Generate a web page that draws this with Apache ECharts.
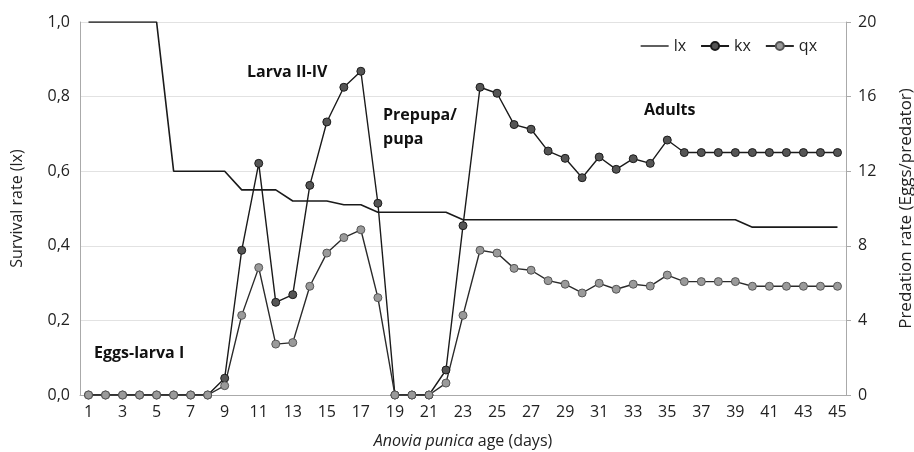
<!DOCTYPE html>
<html>
<head>
<meta charset="utf-8">
<script src="https://cdn.jsdelivr.net/npm/echarts@6/dist/echarts.min.js"></script>
<style>
  html, body { margin: 0; padding: 0; background: #fff; }
  #chart { width: 914px; height: 452px; }
</style>
</head>
<body>
<div id="chart"></div>
<script>
// days of life
var days = [];
for (var d = 1; d <= 45; d++) days.push(String(d));

// survival rate (left axis)
var lx = [1, 1, 1, 1, 1, 0.6, 0.6, 0.6, 0.6, 0.55, 0.55, 0.55, 0.52, 0.52, 0.52,
  0.51, 0.51, 0.49, 0.49, 0.49, 0.49, 0.49, 0.47, 0.47, 0.47, 0.47, 0.47, 0.47,
  0.47, 0.47, 0.47, 0.47, 0.47, 0.47, 0.47, 0.47, 0.47, 0.47, 0.47, 0.45, 0.45,
  0.45, 0.45, 0.45, 0.45];

// predation rate (right axis)
var kx = [0, 0, 0, 0, 0, 0, 0, 0, 0.9, 7.76, 12.42, 4.97, 5.38, 11.24, 14.64,
  16.5, 17.36, 10.28, 0, 0, 0, 1.34, 9.08, 16.5, 16.18, 14.5, 14.25, 13.08,
  12.69, 11.65, 12.76, 12.1, 12.67, 12.42, 13.67, 13, 13, 13, 13, 13, 13, 13,
  13, 13, 13];
var qx = [0, 0, 0, 0, 0, 0, 0, 0, 0.5, 4.27, 6.83, 2.73, 2.81, 5.83, 7.61,
  8.44, 8.86, 5.22, 0, 0, 0, 0.64, 4.27, 7.76, 7.61, 6.79, 6.69, 6.13, 5.94,
  5.47, 5.99, 5.67, 5.94, 5.84, 6.43, 6.08, 6.08, 6.08, 6.08, 5.83, 5.83, 5.83,
  5.83, 5.83, 5.83];

var stageLabels = [
  { text: 'Eggs-larva I', left: 94, top: 341 },
  { text: 'Larva II-IV', left: 247, top: 60 },
  { text: 'Prepupa/\npupa', left: 383, top: 103 },
  { text: 'Adults', left: 644, top: 98 }
];

var font = 'Open Sans';
var myChart = echarts.init(document.getElementById('chart'));

myChart.setOption({
  animation: false,
  textStyle: { fontFamily: font, color: '#222' },
  grid: { left: 80, right: 68, top: 22, bottom: 57, containLabel: false, outerBoundsMode: 'none' },
  legend: {
    top: 33,
    right: 92,
    itemWidth: 28,
    itemHeight: 10,
    itemGap: 14,
    textStyle: { fontSize: 16, color: '#222', fontFamily: font },
    data: [
      { name: 'lx', icon: 'path://M0,0L30,0L30,1.5L0,1.5Z' },
      'kx',
      'qx'
    ]
  },
  xAxis: {
    type: 'category',
    data: days,
    boundaryGap: true,
    axisLine: { lineStyle: { color: '#aaa' } },
    axisTick: { show: false },
    axisLabel: { interval: 1, fontSize: 16, color: '#222', margin: 9 },
    name: '{i|Anovia punica} age (days)',
    nameLocation: 'middle',
    nameGap: 38,
    nameTextStyle: {
      fontSize: 16, color: '#222',
      rich: { i: { fontStyle: 'italic', fontSize: 16, color: '#222', fontFamily: font } }
    }
  },
  yAxis: [{
    type: 'value',
    min: 0, max: 1, interval: 0.2,
    axisLine: { show: true, lineStyle: { color: '#aaa' } },
    axisTick: { show: false },
    splitLine: { lineStyle: { color: '#e2e2e2' } },
    axisLabel: {
      fontSize: 16, color: '#222', margin: 10,
      formatter: function (v) { return v.toFixed(1).replace('.', ','); }
    },
    name: 'Survival rate (lx)',
    nameLocation: 'middle',
    nameGap: 55,
    nameTextStyle: { fontSize: 16, color: '#222' }
  }, {
    type: 'value',
    min: 0, max: 20, interval: 4,
    axisLine: { show: true, lineStyle: { color: '#aaa' } },
    axisTick: { show: true, length: 5, lineStyle: { color: '#aaa' } },
    splitLine: { show: false },
    axisLabel: { fontSize: 16, color: '#222', margin: 12 },
    name: 'Predation rate (Eggs/predator)',
    nameLocation: 'middle',
    nameGap: 52,
    nameRotate: 90,
    nameTextStyle: { fontSize: 17, color: '#222' }
  }],
  series: [{
    name: 'lx',
    type: 'line',
    data: lx,
    yAxisIndex: 0,
    symbol: 'none',
    lineStyle: { color: '#1a1a1a', width: 1.6 },
    itemStyle: { color: '#1a1a1a' }
  }, {
    name: 'kx',
    type: 'line',
    data: kx,
    yAxisIndex: 1,
    symbol: 'circle',
    symbolSize: 8,
    lineStyle: { color: '#1a1a1a', width: 1.4 },
    itemStyle: { color: '#555', borderColor: '#1a1a1a', borderWidth: 1 }
  }, {
    name: 'qx',
    type: 'line',
    data: qx,
    yAxisIndex: 1,
    symbol: 'circle',
    symbolSize: 8,
    lineStyle: { color: '#2a2a2a', width: 1.4 },
    itemStyle: { color: '#9a9a9a', borderColor: '#555', borderWidth: 1 }
  }],
  graphic: stageLabels.map(function (s) {
    return {
      type: 'text',
      left: s.left,
      top: s.top,
      style: {
        text: s.text,
        font: 'bold 16px "Open Sans"',
        fill: '#111',
        lineHeight: 24
      }
    };
  })
});
</script>
</body>
</html>
